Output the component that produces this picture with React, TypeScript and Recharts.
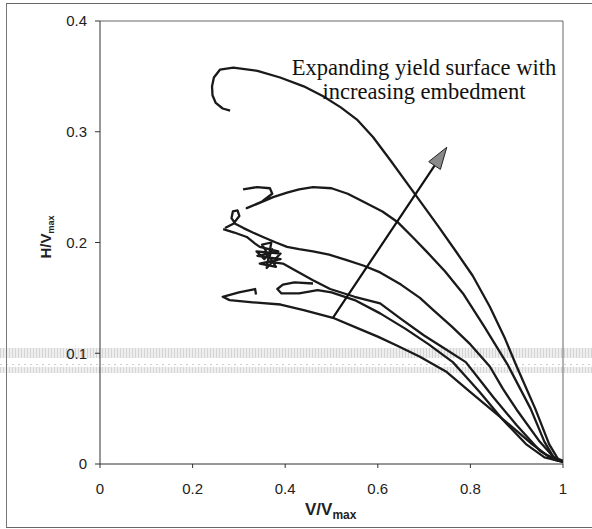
import { LineChart, Line, XAxis, YAxis, ReferenceLine } from 'recharts'

const xTicks = [0, 0.2, 0.4, 0.6, 0.8, 1]
const yTicks = [0, 0.1, 0.2, 0.3, 0.4]

// largest surface, with the hook at the left end
const curveA = [
  { x: 0.281, y: 0.319 }, { x: 0.265, y: 0.321 }, { x: 0.25, y: 0.326 }, { x: 0.243, y: 0.333 },
  { x: 0.242, y: 0.341 }, { x: 0.246, y: 0.349 }, { x: 0.259, y: 0.356 }, { x: 0.288, y: 0.358 },
  { x: 0.34, y: 0.355 }, { x: 0.389, y: 0.349 }, { x: 0.44, y: 0.341 }, { x: 0.482, y: 0.332 },
  { x: 0.52, y: 0.322 }, { x: 0.555, y: 0.311 }, { x: 0.59, y: 0.295 }, { x: 0.626, y: 0.275 },
  { x: 0.685, y: 0.241 }, { x: 0.73, y: 0.215 }, { x: 0.767, y: 0.193 }, { x: 0.805, y: 0.17 },
  { x: 0.842, y: 0.142 }, { x: 0.875, y: 0.113 }, { x: 0.9, y: 0.088 }, { x: 0.94, y: 0.05 },
  { x: 0.97, y: 0.018 }, { x: 0.99, y: 0.004 }, { x: 1.0, y: 0.002 },
]

const curveB = [
  { x: 0.309, y: 0.248 }, { x: 0.339, y: 0.25 }, { x: 0.367, y: 0.249 }, { x: 0.372, y: 0.244 },
  { x: 0.35, y: 0.237 }, { x: 0.317, y: 0.231 }, { x: 0.346, y: 0.236 }, { x: 0.374, y: 0.241 },
  { x: 0.404, y: 0.245 }, { x: 0.43, y: 0.248 }, { x: 0.46, y: 0.25 }, { x: 0.5, y: 0.249 },
  { x: 0.535, y: 0.244 }, { x: 0.568, y: 0.237 }, { x: 0.61, y: 0.228 }, { x: 0.644, y: 0.218 },
  { x: 0.675, y: 0.205 }, { x: 0.705, y: 0.192 }, { x: 0.745, y: 0.174 }, { x: 0.784, y: 0.154 },
  { x: 0.83, y: 0.124 }, { x: 0.88, y: 0.09 }, { x: 0.93, y: 0.05 }, { x: 0.96, y: 0.02 },
  { x: 0.98, y: 0.006 }, { x: 1.0, y: 0.003 },
]

const curveC = [
  { x: 0.27, y: 0.213 }, { x: 0.288, y: 0.217 }, { x: 0.301, y: 0.224 }, { x: 0.297, y: 0.229 },
  { x: 0.287, y: 0.228 }, { x: 0.284, y: 0.222 }, { x: 0.292, y: 0.217 }, { x: 0.31, y: 0.213 },
  { x: 0.33, y: 0.209 }, { x: 0.352, y: 0.205 }, { x: 0.38, y: 0.2 }, { x: 0.404, y: 0.196 },
  { x: 0.43, y: 0.194 }, { x: 0.46, y: 0.192 }, { x: 0.495, y: 0.189 }, { x: 0.533, y: 0.184 },
  { x: 0.57, y: 0.179 }, { x: 0.605, y: 0.173 }, { x: 0.65, y: 0.162 }, { x: 0.691, y: 0.15 },
  { x: 0.72, y: 0.139 }, { x: 0.76, y: 0.124 }, { x: 0.8, y: 0.108 }, { x: 0.842, y: 0.088 },
  { x: 0.87, y: 0.068 }, { x: 0.9, y: 0.049 }, { x: 0.95, y: 0.02 }, { x: 0.98, y: 0.006 },
  { x: 1.0, y: 0.002 },
]

// passes through the dense scribble near V/Vmax = 0.36
const curveD = [
  { x: 0.266, y: 0.212 }, { x: 0.29, y: 0.209 }, { x: 0.317, y: 0.205 }, { x: 0.335, y: 0.199 },
  { x: 0.345, y: 0.196 }, { x: 0.385, y: 0.192 }, { x: 0.34, y: 0.188 }, { x: 0.39, y: 0.185 },
  { x: 0.345, y: 0.181 }, { x: 0.38, y: 0.178 }, { x: 0.35, y: 0.198 }, { x: 0.37, y: 0.2 },
  { x: 0.36, y: 0.177 }, { x: 0.39, y: 0.19 }, { x: 0.338, y: 0.192 }, { x: 0.355, y: 0.185 },
  { x: 0.372, y: 0.194 }, { x: 0.362, y: 0.183 }, { x: 0.375, y: 0.182 }, { x: 0.395, y: 0.181 },
  { x: 0.425, y: 0.174 }, { x: 0.46, y: 0.166 }, { x: 0.497, y: 0.158 }, { x: 0.55, y: 0.151 },
  { x: 0.605, y: 0.145 }, { x: 0.65, y: 0.131 }, { x: 0.7, y: 0.116 }, { x: 0.745, y: 0.104 },
  { x: 0.79, y: 0.092 }, { x: 0.82, y: 0.076 }, { x: 0.85, y: 0.06 }, { x: 0.9, y: 0.035 },
  { x: 0.95, y: 0.012 }, { x: 0.98, y: 0.004 }, { x: 1.0, y: 0.002 },
]

// small closed loop near V/Vmax = 0.42
const curveE = [
  { x: 0.46, y: 0.163 }, { x: 0.42, y: 0.164 }, { x: 0.395, y: 0.162 }, { x: 0.383, y: 0.158 },
  { x: 0.392, y: 0.154 }, { x: 0.43, y: 0.154 }, { x: 0.47, y: 0.157 }, { x: 0.5, y: 0.155 },
  { x: 0.55, y: 0.148 }, { x: 0.605, y: 0.136 }, { x: 0.66, y: 0.122 }, { x: 0.71, y: 0.108 },
  { x: 0.762, y: 0.092 }, { x: 0.79, y: 0.079 }, { x: 0.82, y: 0.065 }, { x: 0.87, y: 0.04 },
  { x: 0.92, y: 0.018 }, { x: 0.96, y: 0.006 }, { x: 1.0, y: 0.002 },
]

const curveF = [
  { x: 0.337, y: 0.153 }, { x: 0.335, y: 0.158 }, { x: 0.3, y: 0.155 }, { x: 0.265, y: 0.151 },
  { x: 0.28, y: 0.148 }, { x: 0.33, y: 0.146 }, { x: 0.39, y: 0.144 }, { x: 0.44, y: 0.139 },
  { x: 0.503, y: 0.132 }, { x: 0.56, y: 0.122 }, { x: 0.6, y: 0.115 }, { x: 0.641, y: 0.107 },
  { x: 0.69, y: 0.097 }, { x: 0.749, y: 0.083 }, { x: 0.8, y: 0.065 }, { x: 0.857, y: 0.045 },
  { x: 0.9, y: 0.03 }, { x: 0.93, y: 0.019 }, { x: 0.965, y: 0.008 }, { x: 0.994, y: 0.003 },
  { x: 1.0, y: 0.002 },
]

const curves = [curveA, curveB, curveC, curveD, curveE, curveF]

const arrowStart = { x: 0.503, y: 0.132 }
const arrowEnd = { x: 0.749, y: 0.286 }

const tickStyle = { fontFamily: 'Liberation Sans, Arial, sans-serif', fontSize: 15, fill: '#222' }

function Arrow(props: any) {
  const { x1, y1, x2, y2 } = props
  const a = Math.atan2(y2 - y1, x2 - x1)
  const c = Math.cos(a)
  const s = Math.sin(a)
  const bx = x2 - 22 * c
  const by = y2 - 22 * s
  const pts = `${x2},${y2} ${bx - 7 * s},${by + 7 * c} ${bx + 7 * s},${by - 7 * c}`
  return (
    <g>
      <line x1={x1} y1={y1} x2={bx} y2={by} stroke="#111" strokeWidth={2.2} />
      <polygon points={pts} fill="#8a8a8a" stroke="#222" strokeWidth={1} />
    </g>
  )
}

export default function App() {
  return (
    <div style={{ position: 'absolute', left: 0, top: 0, width: 592, height: 529, background: '#fff', overflow: 'hidden' }}>
      {/* scanner streaks */}
      <div style={{ position: 'absolute', left: 0, top: 348, width: 592, height: 10, background: 'repeating-linear-gradient(90deg, #d4d4d4 0 1px, #eeeeee 1px 3px)' }} />
      <div style={{ position: 'absolute', left: 0, top: 364, width: 592, height: 1, background: 'repeating-linear-gradient(90deg, #cfcfcf 0 2px, transparent 2px 6px)' }} />
      <div style={{ position: 'absolute', left: 0, top: 367, width: 592, height: 6, background: 'repeating-linear-gradient(90deg, #d6d6d6 0 1px, #efefef 1px 3px)' }} />
      {/* outer frame */}
      <div style={{ position: 'absolute', left: 6, top: 3, width: 600, height: 523, borderTop: '1px solid #666', borderLeft: '1px solid #777', borderBottom: '1px solid #666' }} />

      <div style={{ position: 'absolute', left: 0, top: 0 }}>
        <LineChart width={592} height={529} data={curveA} margin={{ top: 21, right: 29, bottom: 25, left: 0 }}>
          <XAxis
            dataKey="x"
            type="number"
            domain={[0, 1]}
            ticks={xTicks}
            tick={tickStyle}
            tickSize={4}
            tickMargin={15}
            height={40}
            stroke="#333"
            allowDataOverflow
          />
          <YAxis
            type="number"
            domain={[0, 0.4]}
            ticks={yTicks}
            tick={tickStyle}
            tickSize={5}
            tickMargin={8}
            width={100}
            stroke="#333"
            allowDataOverflow
          />
          <ReferenceLine y={0.4} stroke="#666" strokeWidth={1} />
          <ReferenceLine x={1} stroke="#666" strokeWidth={1} />
          {curves.map((d, i) => (
            <Line
              key={i}
              data={d}
              dataKey="y"
              type="linear"
              stroke="#1a1a1a"
              strokeWidth={2.3}
              strokeLinejoin="round"
              dot={false}
              activeDot={false}
              isAnimationActive={false}
            />
          ))}
          <ReferenceLine segment={[arrowStart, arrowEnd]} shape={Arrow} ifOverflow="visible" />
        </LineChart>
      </div>

      <div
        style={{
          position: 'absolute', left: 286, top: 56, width: 276, textAlign: 'center',
          fontFamily: 'Liberation Serif, Times New Roman, serif', fontSize: 22.5, lineHeight: '24px', color: '#111',
          whiteSpace: 'nowrap',
        }}
      >
        Expanding yield surface with
        <br />
        increasing embedment
      </div>

      <div
        style={{
          position: 'absolute', left: 305, top: 500, fontFamily: 'Liberation Sans, Arial, sans-serif',
          fontWeight: 'bold', fontSize: 17, color: '#222', whiteSpace: 'nowrap',
        }}
      >
        V/V<span style={{ fontSize: 12, position: 'relative', top: 4 }}>max</span>
      </div>

      <div
        style={{
          position: 'absolute', left: 45, top: 237, transform: 'translate(-50%, -50%) rotate(-90deg)',
          fontFamily: 'Liberation Sans, Arial, sans-serif', fontWeight: 'bold', fontSize: 15, color: '#222',
          whiteSpace: 'nowrap',
        }}
      >
        H/V<span style={{ fontSize: 9, position: 'relative', top: 3 }}>max</span>
      </div>
    </div>
  )
}
